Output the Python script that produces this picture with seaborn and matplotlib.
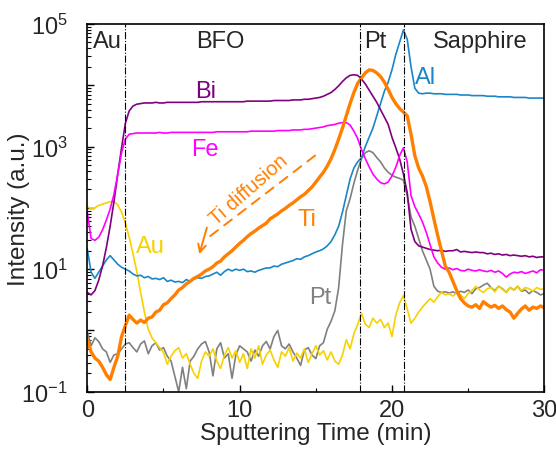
import numpy as np
import matplotlib
matplotlib.use("Agg")
import matplotlib.pyplot as plt
import matplotlib.ticker as mticker
import seaborn as sns

# sputtering time grid (min), one sample every 0.25 min
time = np.arange(0, 30.01, 0.25)

# log10 of intensity (a.u.)
bi_log = [0.62, 0.58, 0.65, 0.82, 1.05, 1.35, 1.70, 2.10,
          2.55, 2.98, 3.38, 3.58, 3.66, 3.69, 3.70, 3.71,
          3.71, 3.71, 3.72, 3.71, 3.71, 3.72, 3.72, 3.72,
          3.72, 3.72, 3.72, 3.72, 3.72, 3.72, 3.73, 3.73,
          3.73, 3.73, 3.73, 3.73, 3.73, 3.73, 3.73, 3.73,
          3.73, 3.73, 3.74, 3.74, 3.74, 3.74, 3.74, 3.74,
          3.74, 3.75, 3.75, 3.75, 3.75, 3.75, 3.76, 3.76,
          3.76, 3.77, 3.77, 3.78, 3.79, 3.80, 3.82, 3.85,
          3.88, 3.93, 3.99, 4.06, 4.12, 4.16, 4.17, 4.16,
          4.10, 4.02, 3.92, 3.82, 3.72, 3.60, 3.48, 3.36,
          3.15, 2.98, 2.80, 2.55, 2.25, 1.65, 1.45, 1.38,
          1.36, 1.34, 1.32, 1.31, 1.30, 1.31, 1.29, 1.30,
          1.30, 1.32, 1.28, 1.29, 1.28, 1.27, 1.28, 1.27,
          1.27, 1.25, 1.26, 1.24, 1.25, 1.23, 1.24, 1.22,
          1.23, 1.22, 1.21, 1.22, 1.20, 1.21, 1.19, 1.20,
          1.20]

fe_log = [1.93, 1.50, 1.47, 1.52, 1.64, 1.80, 1.98, 2.22,
          2.55, 2.90, 3.12, 3.20, 3.21, 3.22, 3.22, 3.22,
          3.22, 3.22, 3.22, 3.23, 3.22, 3.22, 3.23, 3.23,
          3.23, 3.23, 3.23, 3.23, 3.23, 3.23, 3.23, 3.23,
          3.23, 3.23, 3.24, 3.24, 3.24, 3.24, 3.24, 3.24,
          3.24, 3.24, 3.24, 3.25, 3.25, 3.25, 3.25, 3.25,
          3.25, 3.25, 3.26, 3.26, 3.26, 3.26, 3.27, 3.27,
          3.27, 3.28, 3.28, 3.29, 3.30, 3.31, 3.32, 3.34,
          3.35, 3.36, 3.38, 3.39, 3.39, 3.35, 3.25, 3.13,
          2.95, 2.80, 2.67, 2.55, 2.47, 2.41, 2.39, 2.42,
          2.52, 2.66, 2.85, 2.98, 2.75, 2.20, 2.02, 1.90,
          1.77, 1.60, 1.40, 1.20, 1.10, 1.03, 1.00, 1.02,
          0.99, 1.01, 0.98, 0.97, 1.00, 0.98, 0.97, 0.99,
          0.97, 0.96, 0.98, 0.95, 0.97, 0.93, 0.87, 0.92,
          0.95, 0.94, 0.96, 0.93, 0.95, 0.97, 0.94, 0.99,
          0.98]

ti_log = [-0.15, -0.35, -0.45, -0.50, -0.60, -0.72, -0.80, -0.60,
          -0.42, -0.10, 0.08, 0.25, 0.18, 0.12, 0.17, 0.13,
          0.20, 0.22, 0.30, 0.33, 0.42, 0.45, 0.52, 0.58,
          0.66, 0.70, 0.76, 0.80, 0.85, 0.88, 0.92, 0.97,
          1.00, 1.04, 1.10, 1.13, 1.20, 1.25, 1.30, 1.36,
          1.42, 1.47, 1.53, 1.58, 1.62, 1.67, 1.71, 1.75,
          1.82, 1.86, 1.90, 1.95, 1.99, 2.04, 2.08, 2.13,
          2.18, 2.22, 2.28, 2.34, 2.42, 2.50, 2.58, 2.68,
          2.80, 2.95, 3.12, 3.30, 3.50, 3.70, 3.88, 4.03,
          4.12, 4.20, 4.25, 4.24, 4.20, 4.14, 4.05, 3.93,
          3.80, 3.70, 3.62, 3.56, 3.50, 3.20, 2.85, 2.65,
          2.52, 2.35, 2.10, 1.82, 1.55, 1.30, 1.05, 0.95,
          0.80, 0.65, 0.52, 0.45, 0.40, 0.38, 0.42, 0.36,
          0.47, 0.42, 0.38, 0.41, 0.36, 0.40, 0.34, 0.30,
          0.20, 0.28, 0.35, 0.40, 0.33, 0.38, 0.36, 0.40,
          0.37]

au_log = [2.02, 1.98, 2.00, 2.04, 2.06, 2.08, 2.10, 2.10,
          2.05, 1.93, 1.75, 1.52, 1.25, 0.96, 0.62, 0.30,
          0.02, -0.12, -0.20, -0.28, -0.36, -0.55, -0.42, -0.33,
          -0.28, -0.45, -0.38, -0.55, -0.70, -0.78, -0.50, -0.35,
          -0.42, -0.30, -0.50, -0.62, -0.40, -0.28, -0.45, -0.33,
          -0.52, -0.38, -0.62, -0.30, -0.45, -0.25, -0.55, -0.40,
          -0.32, -0.48, -0.60, -0.35, -0.42, -0.28, -0.50, -0.37,
          -0.45, -0.30, -0.52, -0.38, -0.25, -0.40, -0.33, -0.48,
          -0.35, -0.50, -0.55, -0.40, -0.15, -0.30, -0.05, 0.10,
          0.28, 0.10, 0.05, 0.20, 0.12, 0.18, 0.05, 0.12,
          -0.10, 0.25, 0.45, 0.57, 0.35, 0.12, 0.20, 0.30,
          0.38, 0.45, 0.52, 0.46, 0.55, 0.62, 0.58, 0.60,
          0.56, 0.62, 0.58, 0.52, 0.60, 0.65, 0.72, 0.66,
          0.62, 0.68, 0.70, 0.63, 0.72, 0.67, 0.62, 0.70,
          0.66, 0.72, 0.65, 0.70, 0.68, 0.64, 0.70, 0.67,
          0.68]

pt_log = [-0.02, -0.25, -0.12, -0.18, -0.30, -0.35, -0.52, -0.40,
          -0.38, -0.30, -0.22, -0.20, -0.28, -0.35, -0.22, -0.17,
          -0.38, -0.25, -0.20, -0.32, -0.28, -0.42, -0.50, -0.75,
          -1.00, -0.60, -0.95, -0.50, -0.42, -0.30, -0.22, -0.18,
          -0.35, -0.74, -0.30, -0.20, -0.45, -0.38, -0.78, -0.40,
          -0.25, -0.30, -0.35, -0.50, -0.32, -0.42, -0.25, -0.18,
          -0.30, -0.10, 0.00, -0.25, -0.30, -0.22, -0.35, -0.45,
          -0.57, -0.32, -0.28, -0.40, -0.46, -0.25, -0.20, 0.02,
          0.15, 0.32, 0.70, 1.40, 1.95, 2.15, 2.40, 2.62,
          2.80, 2.90, 2.93, 2.90, 2.82, 2.75, 2.65, 2.58,
          2.53, 2.50, 2.48, 2.45, 2.20, 1.85, 1.70, 1.50,
          1.30, 1.15, 1.00, 0.72, 0.64, 0.62, 0.63, 0.61,
          0.63, 0.60, 0.64, 0.62, 0.66, 0.60, 0.68, 0.70,
          0.74, 0.77, 0.70, 0.65, 0.72, 0.68, 0.62, 0.70,
          0.66, 0.72, 0.64, 0.66, 0.60, 0.65, 0.62, 0.58,
          0.60]

al_log = [1.33, 0.95, 0.85, 0.95, 1.05, 1.15, 1.22, 1.15,
          1.08, 1.03, 1.00, 0.97, 0.92, 0.89, 0.90, 0.86,
          0.88, 0.84, 0.85, 0.83, 0.86, 0.80, 0.82, 0.79,
          0.80, 0.78, 0.83, 0.80, 0.84, 0.86, 0.85, 0.88,
          0.89, 0.92, 0.95, 0.90, 0.96, 1.00, 0.97, 1.00,
          0.98, 1.00, 0.96, 0.97, 0.95, 0.98, 1.00, 1.02,
          1.02, 1.05, 1.04, 1.08, 1.10, 1.12, 1.14, 1.17,
          1.16, 1.20, 1.22, 1.25, 1.28, 1.30, 1.33, 1.38,
          1.45, 1.56, 1.70, 1.93, 2.20, 2.47, 2.65, 2.75,
          2.82, 3.00, 3.15, 3.30, 3.50, 3.70, 3.90, 4.05,
          4.25, 4.50, 4.70, 4.90, 4.75, 4.30, 3.95, 3.87,
          3.86, 3.87, 3.87, 3.86, 3.86, 3.86, 3.85, 3.85,
          3.85, 3.85, 3.84, 3.84, 3.84, 3.83, 3.83, 3.83,
          3.83, 3.82, 3.82, 3.82, 3.81, 3.81, 3.81, 3.81,
          3.80, 3.80, 3.80, 3.80, 3.79, 3.79, 3.79, 3.79,
          3.79]

# layer boundaries (min) and labels
boundaries = [2.5, 17.9, 20.8]
layer_names = ["Au", "BFO", "Pt", "Sapphire"]
layer_x = [1.3, 8.75, 18.9, 25.8]

sns.set_style("ticks")
plt.rcParams["font.family"] = ["Liberation Sans", "DejaVu Sans"]
plt.rcParams["mathtext.default"] = "regular"

orange = "#ff7f00"
series = [
    # name, values, colour, width, label x, label log10 y
    ("Pt", pt_log, "#808080", 1.2, 15.3, 0.55),
    ("Au", au_log, "#f7d100", 1.2, 4.15, 1.38),
    ("Al", al_log, "#1a86c8", 1.2, 22.2, 4.14),
    ("Bi", bi_log, "#800080", 1.2, 7.75, 3.91),
    ("Fe", fe_log, "#ff00ff", 1.2, 7.75, 2.96),
    ("Ti", ti_log, orange, 2.4, 14.45, 1.82),
]

fig = plt.figure(figsize=(5.56, 4.52), dpi=100)
ax = fig.add_axes([0.157, 0.131, 0.822, 0.814])

for name, vals, col, lw, lx, ly in series:
    assert len(vals) == len(time), name
    sns.lineplot(x=time, y=10 ** np.array(vals), ax=ax, color=col, lw=lw)
    ax.text(lx, 10 ** ly, name, color=col, fontsize=17, ha="center", va="center")

for b in boundaries:
    ax.axvline(b, color="black", lw=0.8, ls="-.")

for name, lx in zip(layer_names, layer_x):
    ax.text(lx, 0.954, name, transform=ax.get_xaxis_transform(),
            fontsize=17, ha="center", va="center")

# Ti diffusion arrow
ax.annotate("", xy=(7.6, 10 ** 1.45), xytext=(15.1, 10 ** 2.88),
            arrowprops=dict(arrowstyle="-", ls=(0, (5, 4)), color=orange, lw=1.4))
ax.annotate("", xy=(7.3, 10 ** 1.2), xytext=(7.9, 10 ** 1.72),
            arrowprops=dict(arrowstyle="->", color=orange, lw=1.4,
                            mutation_scale=14))
ax.text(10.6, 10 ** 2.3, "Ti diffusion", color=orange, fontsize=14.5,
        rotation=41, ha="center", va="center", rotation_mode="anchor")

ax.set_yscale("log")
ax.set_xlim(0, 30)
ax.set_ylim(1e-1, 1e5)
ax.set_xticks([0, 10, 20, 30])
ax.xaxis.set_minor_locator(mticker.MultipleLocator(5))
ax.yaxis.set_major_locator(mticker.LogLocator(base=10, numticks=10))
ax.yaxis.set_minor_locator(mticker.LogLocator(base=10, subs=np.arange(2, 10), numticks=20))
ax.yaxis.set_major_formatter(mticker.FuncFormatter(
    lambda v, p: "$10^{%d}$" % round(np.log10(v)) if round(np.log10(v)) % 2 else ""))
ax.yaxis.set_minor_formatter(mticker.NullFormatter())
ax.tick_params(which="both", direction="in", labelsize=17, color="black")
ax.tick_params(which="major", length=5, width=1)
ax.tick_params(which="minor", length=3, width=0.8)
ax.tick_params(axis="y", which="major", pad=14)
ax.tick_params(axis="x", which="major", pad=5)
for s in ax.spines.values():
    s.set_linewidth(1.2)
    s.set_color("black")

ax.set_xlabel("Sputtering Time (min)", fontsize=17.5, labelpad=1)
ax.set_ylabel("Intensity (a.u.)", fontsize=17.5)
ax.yaxis.set_label_coords(-0.125, 0.5)

fig.savefig("out.png", dpi=100)
